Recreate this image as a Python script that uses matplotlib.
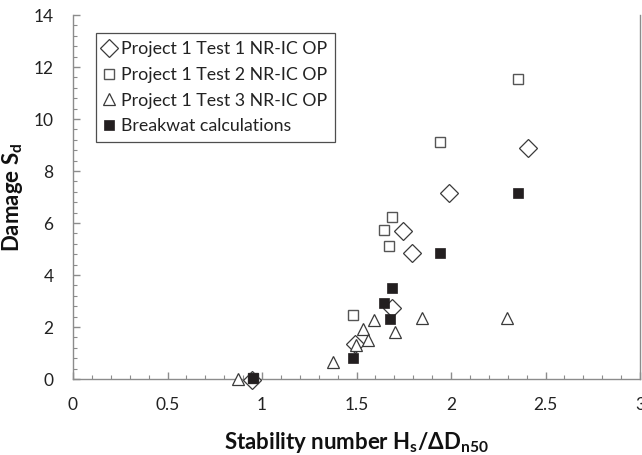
import matplotlib
matplotlib.use("Agg")
import matplotlib.pyplot as plt
from matplotlib.ticker import MultipleLocator

plt.rcParams['font.family'] = ['Lato', 'DejaVu Sans']
plt.rcParams['mathtext.fontset'] = 'custom'
plt.rcParams['mathtext.bf'] = 'Lato:bold'
plt.rcParams['mathtext.rm'] = 'Lato'

# Data
t1_x = [0.945, 1.492, 1.686, 1.744, 1.792, 1.991, 2.406]
t1_y = [-0.05, 1.35, 2.75, 5.7, 4.86, 7.15, 8.9]

t2_x = [0.95, 1.483, 1.647, 1.674, 1.686, 1.942, 2.355]
t2_y = [0.05, 2.45, 5.75, 5.1, 6.25, 9.1, 11.55]

t3_x = [0.875, 1.377, 1.496, 1.536, 1.562, 1.593, 1.705, 1.845, 2.295]
t3_y = [0.0, 0.65, 1.3, 1.93, 1.5, 2.27, 1.8, 2.35, 2.35]

bw_x = [0.951, 1.483, 1.646, 1.677, 1.686, 1.942, 2.356]
bw_y = [0.05, 0.82, 2.93, 2.3, 3.5, 4.85, 7.15]

labels = ['Project 1 Test 1 NR-IC OP', 'Project 1 Test 2 NR-IC OP',
          'Project 1 Test 3 NR-IC OP', 'Breakwat calculations']

fig = plt.figure(figsize=(6.42, 4.55), dpi=100)
ax = fig.add_axes([73/642, 1-379/455, (640-73)/642, (379-15)/455])

edge = '#3a3a3a'
ax.plot(t1_x, t1_y, ls='none', marker='D', ms=8.8, mfc='white', mec=edge, mew=0.9,
        label=labels[0], clip_on=False, zorder=3)
ax.plot(t2_x, t2_y, ls='none', marker='s', ms=7.2, mfc='white', mec='#555555', mew=1.0,
        label=labels[1], clip_on=False, zorder=3)
ax.plot(t3_x, t3_y, ls='none', marker='^', ms=8.8, mfc='white', mec=edge, mew=0.9,
        label=labels[2], clip_on=False, zorder=3)
ax.plot(bw_x, bw_y, ls='none', marker='s', ms=7.7, mfc='#231f20', mec='#231f20', mew=0.5,
        label=labels[3], clip_on=False, zorder=4)

ax.set_xlim(0, 3)
ax.set_ylim(0, 14)
ax.xaxis.set_major_locator(MultipleLocator(0.5))
ax.xaxis.set_minor_locator(MultipleLocator(0.1))
ax.yaxis.set_major_locator(MultipleLocator(2))
ax.yaxis.set_minor_locator(MultipleLocator(0.4))
ax.set_xticks([0, 0.5, 1, 1.5, 2, 2.5, 3])
ax.set_xticklabels(['0', '0.5', '1', '1.5', '2', '2.5', '3'])

spine_c = '#8c8c8c'
for s in ['left', 'bottom', 'right']:
    ax.spines[s].set_color(spine_c)
    ax.spines[s].set_linewidth(1.0)
ax.spines['top'].set_visible(False)
ax.tick_params(which='major', direction='in', length=5, color=spine_c, width=1,
               labelsize=12.5, labelcolor='#222222', right=False, top=False)
ax.tick_params(axis='x', which='major', pad=13)
ax.tick_params(axis='y', which='major', pad=14)
ax.tick_params(which='minor', direction='in', length=3, color=spine_c, width=0.8,
               right=False, top=False)

ax.set_xlabel(r'Stability number H$_\mathbf{s}$/ΔD$_\mathbf{n50}$', fontsize=16,
              fontweight='bold', labelpad=12, color='#111111')
ax.set_ylabel(r'Damage S$_\mathbf{d}$', fontsize=16, fontweight='bold', labelpad=6,
              color='#111111')

leg = ax.legend(loc='upper left', bbox_to_anchor=((96-73)/567, (379-33)/364),
                frameon=True, fancybox=False, fontsize=12.8, handlelength=0.6,
                handletextpad=0.35, borderpad=0.45, labelspacing=0.55,
                borderaxespad=0, numpoints=1)
leg.get_frame().set_edgecolor('#222222')
leg.get_frame().set_linewidth(0.9)
for t in leg.get_texts():
    t.set_color('#222222')

fig.savefig('out.png', dpi=100)
